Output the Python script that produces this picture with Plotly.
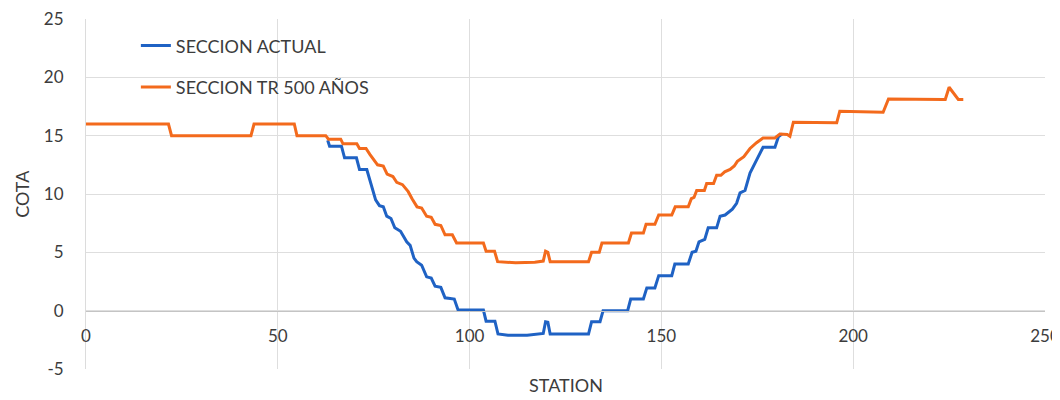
import plotly.graph_objects as go

# ---- data ----
actual_x = [63.0, 63.5, 66.6, 67.4, 70.5, 71.3, 73.2, 74.5, 75.5, 76.5, 77.5, 78.4, 79.5, 80.5, 82.0,
            83.6, 84.5, 85.5, 86.2, 87.5, 88.8, 90.0, 91.0, 92.5, 93.6, 96.0, 97.0, 103.6, 104.3,
            106.6, 107.4, 110.0, 115.0, 119.2, 119.8, 120.4, 121.0, 131.0, 131.8, 134.0, 134.8,
            141.2, 142.0, 145.3, 146.2, 148.3, 149.3, 152.7, 153.5, 157.0, 158.0, 159.0, 159.8,
            161.3, 162.2, 164.4, 165.3, 166.6, 168.5, 169.6, 170.5, 171.8, 173.1, 174.8, 176.5,
            179.6, 180.5, 181.5]
actual_y = [14.6, 14.1, 14.1, 13.1, 13.1, 12.1, 12.1, 10.6, 9.5, 9.0, 8.9, 8.1, 7.9, 7.1, 6.8,
            5.9, 5.6, 4.5, 4.2, 3.9, 2.9, 2.8, 2.1, 2.0, 1.1, 1.0, 0.05, 0.05, -0.9,
            -0.9, -2.0, -2.1, -2.1, -1.95, -0.95, -1.0, -2.0, -2.0, -0.95, -0.95, 0.0,
            0.0, 1.0, 1.0, 1.95, 1.95, 3.0, 3.0, 4.0, 4.0, 5.0, 5.1, 5.9,
            6.1, 7.1, 7.1, 8.1, 8.2, 8.7, 9.2, 10.1, 10.3, 11.8, 12.9, 14.0,
            14.0, 14.9, 15.15]

tr500_x = [0.0, 21.5, 22.3, 43.0, 43.8, 54.3, 55.0, 62.5, 63.2, 66.4, 67.0, 70.6, 71.3, 73.0,
           74.0, 76.0, 77.5, 78.5, 80.0, 81.0, 82.5, 84.0, 85.0, 86.3, 87.5, 88.8, 90.0, 91.0,
           92.5, 93.6, 95.5, 96.6, 103.6, 104.3, 106.5, 107.3, 112.0, 117.0, 119.2, 119.8,
           120.4, 121.0, 131.0, 131.8, 133.8, 134.5, 141.4, 142.2, 145.3, 146.0, 148.3, 149.3,
           152.7, 153.6, 157.0, 157.8, 158.5, 159.2, 161.2, 161.8, 163.6, 164.4, 165.5, 166.5,
           167.9, 169.0, 169.8, 171.5, 173.1, 174.8, 176.5, 179.6, 180.9, 182.8, 183.5, 184.4,
           195.7, 196.5, 207.8, 209.2, 223.5, 224.0, 225.0, 226.2, 227.4, 228.7]
tr500_y = [16.0, 16.0, 15.0, 15.0, 16.0, 16.0, 15.0, 15.0, 14.7, 14.7, 14.3, 14.3, 13.9, 13.9,
           13.4, 12.5, 12.4, 11.7, 11.5, 11.0, 10.8, 10.2, 9.6, 8.9, 8.8, 8.1, 8.0, 7.4,
           7.3, 6.5, 6.5, 5.8, 5.8, 5.1, 5.1, 4.2, 4.1, 4.15, 4.25, 5.1,
           5.0, 4.2, 4.2, 5.0, 5.0, 5.8, 5.8, 6.65, 6.65, 7.4, 7.4, 8.2,
           8.2, 8.9, 8.9, 9.6, 9.7, 10.3, 10.3, 10.9, 10.9, 11.6, 11.6, 11.9,
           12.1, 12.4, 12.8, 13.2, 13.9, 14.4, 14.8, 14.8, 15.15, 15.1, 14.95, 16.15,
           16.1, 17.1, 17.0, 18.15, 18.1, 18.1, 19.15, 18.6, 18.1, 18.1]

x_ticks = [0, 50, 100, 150, 200, 250]
y_ticks = [-5, 0, 5, 10, 15, 20, 25]
y_tick_labels = ["-5", "0", "5", "10", "15", "20", "25"]
series_names = ["SECCION ACTUAL", "SECCION TR 500 AÑOS"]
x_title = "STATION"
y_title = "COTA"

FONT = "Lato"
TXT = "#3c3c3c"
GRID = "#dedede"

fig = go.Figure()
fig.add_trace(go.Scatter(x=actual_x, y=actual_y, mode="lines", name=series_names[0],
                         legendgroup="a", line=dict(color="#1f62c4", width=3)))
fig.add_trace(go.Scatter(x=tr500_x, y=tr500_y, mode="lines", name=series_names[1],
                         legendgroup="b", line=dict(color="#f36a1c", width=3)))

ymin, ymax = y_ticks[0], y_ticks[-1]
fig.update_layout(
    width=1052, height=392,
    margin=dict(l=78, r=15, t=11, b=31, autoexpand=False),
    paper_bgcolor="white", plot_bgcolor="white",
    font=dict(family=FONT, size=17, color=TXT),
    showlegend=True,
    legend=dict(x=0.052, y=0.976, xanchor="left", yanchor="top",
                bgcolor="rgba(0,0,0,0)", font=dict(size=18, color=TXT),
                traceorder="grouped", tracegroupgap=15),
    xaxis=dict(range=[x_ticks[0], x_ticks[-1]], tickvals=x_ticks, automargin=False,
               showgrid=True, gridcolor=GRID, gridwidth=1,
               zeroline=False, showline=True, linecolor="#c4c4c4", linewidth=1,
               anchor="free", position=(0 - ymin) / (ymax - ymin),
               ticks="outside", ticklen=10, tickcolor="rgba(0,0,0,0)",
               ticklabeloverflow="allow",
               tickfont=dict(size=17, color=TXT)),
    yaxis=dict(range=[ymin, ymax], tickvals=y_ticks, ticktext=y_tick_labels,
               automargin=False,
               showgrid=True, gridcolor=GRID, gridwidth=1,
               zeroline=False, showline=True, linecolor="#dcdcdc", linewidth=1,
               ticks="outside", ticklen=18, tickcolor="rgba(0,0,0,0)",
               ticklabeloverflow="allow",
               tickfont=dict(size=17, color=TXT)),
    annotations=[
        dict(text=x_title, xref="paper", yref="paper", x=0.5, y=-0.046,
             xanchor="center", yanchor="middle", showarrow=False,
             font=dict(size=18, color=TXT, family=FONT)),
        dict(text=y_title, xref="paper", yref="paper", x=-0.067, y=0.5,
             xanchor="center", yanchor="middle", showarrow=False, textangle=-90,
             font=dict(size=18, color=TXT, family=FONT)),
    ],
)

fig.write_html("out.html")
